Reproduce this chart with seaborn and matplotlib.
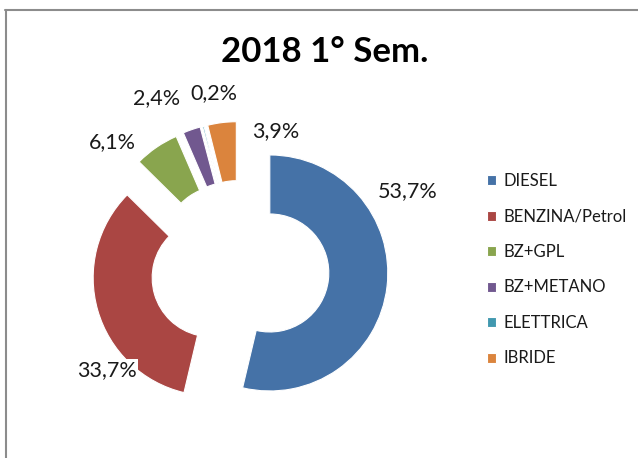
import matplotlib
matplotlib.use("Agg")
import matplotlib.pyplot as plt
import seaborn as sns
from matplotlib.lines import Line2D

# dati: quota per alimentazione, 2018 1° semestre
categorie = ["DIESEL", "BENZINA/Petrol", "BZ+GPL", "BZ+METANO", "ELETTRICA", "IBRIDE"]
quote = [53.7, 33.7, 6.1, 2.4, 0.2, 3.9]
colori = ["#4572A7", "#AA4643", "#89A54E", "#71588F", "#4198AF", "#DB843D"]
titolo = "2018 1° Sem."

sns.set_theme(style="white")
plt.rcParams['font.family'] = ['Lato', 'DejaVu Sans']

W, H = 638, 458
fig = plt.figure(figsize=(W / 100, H / 100), dpi=100)
ax = fig.add_axes([0, 0, 1, 1])

# ciambella esplosa, coordinate in pixel (origine in basso)
wedges, _ = ax.pie(quote, colors=sns.color_palette(colori), startangle=90,
                   counterclock=False, radius=118, center=(240, H - 269.5),
                   explode=[30] * len(quote),
                   wedgeprops=dict(width=59, edgecolor="white", linewidth=0.8))
ax.set_xlim(0, W)
ax.set_ylim(0, H)
ax.set_aspect("equal")
ax.axis("off")

# etichette percentuali (posizioni come nel grafico Excel)
pos_etichette = [(408, 191), (107, 370), (112, 142), (157, 98), (214, 93), (276, 131)]
for v, (px, py) in zip(quote, pos_etichette):
    testo = f"{v:.1f}".replace(".", ",") + "%"
    ax.text(px, H - py, testo, ha="center", va="center", fontsize=15.5, color="#1a1a1a",
            bbox=dict(facecolor="white", edgecolor="none", pad=1.0), zorder=5)

fig.text(325 / W, 1 - 52 / H, titolo, ha="center", va="center",
         fontsize=25, fontweight="bold", color="black")

leg = ax.legend(wedges, categorie, loc="upper left",
                bbox_to_anchor=(487 / W, 1 - 173 / H), bbox_transform=fig.transFigure,
                frameon=False, fontsize=12, handlelength=0.55, handleheight=0.55,
                handletextpad=0.45, labelspacing=1.17, borderpad=0, borderaxespad=0)
for t in leg.get_texts():
    t.set_color("#1a1a1a")

# bordo dell'area grafico
fig.add_artist(Line2D([6 / W, 6 / W], [0, 1 - 9.5 / H], transform=fig.transFigure,
                      color="#8c8c8c", lw=1.5))
fig.add_artist(Line2D([5 / W, 1], [1 - 9.5 / H, 1 - 9.5 / H], transform=fig.transFigure,
                      color="#8c8c8c", lw=1.5))

fig.savefig("out.png", dpi=100)
